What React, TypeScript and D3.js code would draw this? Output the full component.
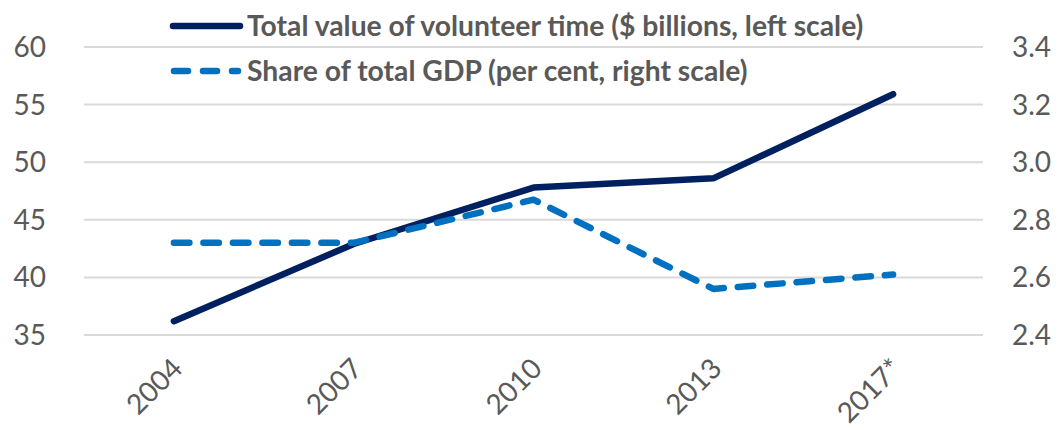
import React from 'react';
import * as d3 from 'd3';

const years = ['2004', '2007', '2010', '2013', '2017*'];
const volunteerValue = [36.2, 42.9, 47.8, 48.6, 55.9];
const gdpShare = [2.72, 2.72, 2.87, 2.56, 2.61];
const leftTicks = [35, 40, 45, 50, 55, 60];
const rightTicks = [2.4, 2.6, 2.8, 3.0, 3.2, 3.4];

const W = 1058;
const H = 430;
const margin = { top: 47, right: 75, bottom: 95, left: 84 };
const FONT = 'Lato, "Open Sans", sans-serif';

const App = () => {
  const x = d3.scaleBand().domain(years).range([margin.left, W - margin.right]);
  const yL = d3.scaleLinear().domain([35, 60]).range([H - margin.bottom, margin.top]);
  const yR = d3.scaleLinear().domain([2.4, 3.4]).range([H - margin.bottom, margin.top]);
  const cx = (d: string) => (x(d) as number) + x.bandwidth() / 2;

  const lineL = d3.line<number>().x((_, i) => cx(years[i])).y((d) => yL(d));
  const lineR = d3.line<number>().x((_, i) => cx(years[i])).y((d) => yR(d));

  const textColor = '#595959';

  return (
    <svg width={W} height={H} style={{ position: 'absolute', left: 0, top: 0 }} fontFamily={FONT}>
      <rect width={W} height={H} fill="#fff" />
      {leftTicks.map((t) => (
        <line key={t} x1={margin.left} x2={W - margin.right} y1={yL(t)} y2={yL(t)} stroke="#d9d9d9" strokeWidth={2} />
      ))}
      {leftTicks.map((t) => (
        <text key={t} x={46} y={yL(t)} dy="0.36em" textAnchor="end" fontSize={28} fill={textColor}>
          {t}
        </text>
      ))}
      {rightTicks.map((t) => (
        <text key={t} x={1012} y={yR(t)} dy="0.36em" textAnchor="start" fontSize={28} fill={textColor}>
          {d3.format('.1f')(t)}
        </text>
      ))}
      {years.map((y) => (
        <text
          key={y}
          transform={`translate(${cx(y) - 4},${H - margin.bottom + 21}) rotate(-45)`}
          textAnchor="end"
          dy="0.72em"
          fontSize={28}
          fill={textColor}
        >
          {y}
        </text>
      ))}
      <path d={lineL(volunteerValue) ?? ''} fill="none" stroke="#002060" strokeWidth={6.5} strokeLinecap="round" strokeLinejoin="round" />
      <path
        d={lineR(gdpShare) ?? ''}
        fill="none"
        stroke="#0070c0"
        strokeWidth={6.5}
        strokeDasharray="15.5 14"
        strokeLinecap="round"
        strokeLinejoin="round"
      />
      <g>
        <line x1={173} x2={240} y1={26} y2={26} stroke="#002060" strokeWidth={6.5} strokeLinecap="round" />
        <text x={247} y={26} dy="0.36em" fontSize={28.3} fontWeight="bold" fill={textColor}>
          Total value of volunteer time ($ billions, left scale)
        </text>
        <line x1={174} x2={238} y1={71} y2={71} stroke="#0070c0" strokeWidth={6.5} strokeLinecap="round" strokeDasharray="14 15" />
        <text x={247} y={71} dy="0.36em" fontSize={28.3} fontWeight="bold" fill={textColor}>
          Share of total GDP (per cent, right scale)
        </text>
      </g>
    </svg>
  );
};

export default App;
